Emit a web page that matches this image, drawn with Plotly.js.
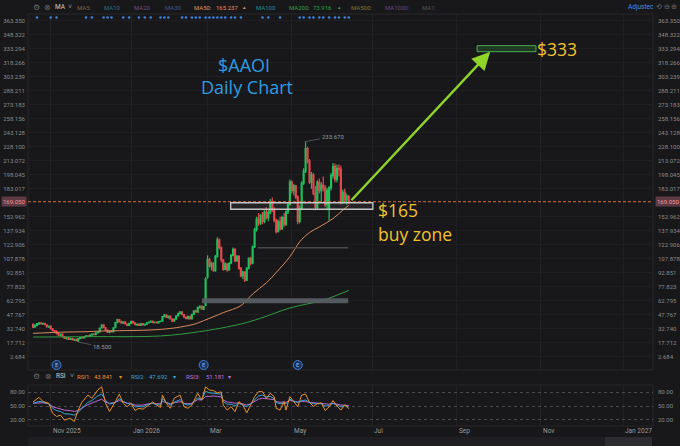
<!DOCTYPE html>
<html><head><meta charset="utf-8">
<script src="https://cdn.plot.ly/plotly-3.0.1.min.js"></script>
<style>html,body{margin:0;padding:0;background:#18181b;}#chart{width:680px;height:446px;}</style>
</head><body><div id="chart"></div>
<script>
const dates = [
"2025-10-21","2025-10-22","2025-10-23","2025-10-24","2025-10-27","2025-10-28","2025-10-29","2025-10-30","2025-10-31",
"2025-11-03","2025-11-04","2025-11-05","2025-11-06","2025-11-07","2025-11-10","2025-11-11","2025-11-12","2025-11-13","2025-11-14","2025-11-17","2025-11-18","2025-11-19","2025-11-20","2025-11-21","2025-11-24","2025-11-25","2025-11-26","2025-11-28",
"2025-12-01","2025-12-02","2025-12-03","2025-12-04","2025-12-05","2025-12-08","2025-12-09","2025-12-10","2025-12-11","2025-12-12","2025-12-15","2025-12-16","2025-12-17","2025-12-18","2025-12-19","2025-12-22","2025-12-23","2025-12-24","2025-12-26","2025-12-29","2025-12-30","2025-12-31",
"2026-01-02","2026-01-05","2026-01-06","2026-01-07","2026-01-08","2026-01-09","2026-01-12","2026-01-13","2026-01-14","2026-01-15","2026-01-16","2026-01-20","2026-01-21","2026-01-22","2026-01-23","2026-01-26","2026-01-27","2026-01-28","2026-01-29","2026-01-30",
"2026-02-02","2026-02-03","2026-02-04","2026-02-05","2026-02-06","2026-02-09","2026-02-10","2026-02-11","2026-02-12","2026-02-13","2026-02-17","2026-02-18","2026-02-19","2026-02-20","2026-02-23","2026-02-24","2026-02-25","2026-02-26","2026-02-27",
"2026-03-02","2026-03-03","2026-03-04","2026-03-05","2026-03-06","2026-03-09","2026-03-10","2026-03-11","2026-03-12","2026-03-13","2026-03-16","2026-03-17","2026-03-18","2026-03-19","2026-03-20","2026-03-23","2026-03-24","2026-03-25","2026-03-26","2026-03-27","2026-03-30","2026-03-31",
"2026-04-01","2026-04-02","2026-04-06","2026-04-07","2026-04-08","2026-04-09","2026-04-10","2026-04-13","2026-04-14","2026-04-15","2026-04-16","2026-04-17","2026-04-20","2026-04-21","2026-04-22","2026-04-23","2026-04-24","2026-04-27","2026-04-28","2026-04-29","2026-04-30",
"2026-05-01","2026-05-04","2026-05-05","2026-05-06","2026-05-07","2026-05-08","2026-05-11","2026-05-12","2026-05-13","2026-05-14","2026-05-15","2026-05-18","2026-05-19","2026-05-20","2026-05-21","2026-05-22","2026-05-26","2026-05-27","2026-05-28","2026-05-29",
"2026-06-01","2026-06-02","2026-06-03","2026-06-04","2026-06-05","2026-06-08","2026-06-09","2026-06-10","2026-06-11","2026-06-12"];

const open = [37.5,34.5,36.3,38.0,39.0,37.8,38.5,37.0,34.8,35.5,
32.6,30.8,29.0,27.6,25.8,26.9,24.3,22.5,23.2,21.4,
22.4,20.9,21.3,20.0,22.1,23.1,22.8,24.2,25.0,24.4,
25.9,27.0,26.4,28.2,29.4,33.5,36.8,33.8,31.0,28.8,
30.4,29.2,33.8,39.2,42.6,40.2,38.8,40.1,37.8,36.2,
38.4,40.7,39.0,37.0,37.6,36.4,38.2,36.8,37.4,39.1,
39.9,40.9,39.2,39.8,39.0,40.5,40.9,45.8,47.6,44.8,
46.3,43.2,40.8,43.1,46.6,49.2,50.8,47.8,45.2,43.6,
46.0,43.4,48.2,52.0,50.6,55.6,56.9,53.8,58.0,88.0,
107.0,100.0,103.0,95.0,110.5,128.0,120.0,106.5,96.5,102.5,
96.0,103.0,111.5,118.0,105.5,110.5,97.5,89.5,93.5,85.0,
97.5,108.0,103.0,120.5,139.0,150.5,146.0,154.5,148.0,158.0,
152.0,157.5,169.5,160.0,149.0,137.0,147.5,140.0,152.0,145.0,
158.0,166.0,190.0,181.0,186.0,174.0,148.0,162.0,189.0,202.0,
226.0,213.0,190.0,198.0,178.0,163.0,190.0,181.0,187.0,184.0,
166.0,161.0,184.0,197.0,207.0,193.0,205.0,204.0,169.0,179.0,
171.0,175.0];
const high = [38.5,37.0,38.8,39.6,39.8,39.2,39.0,37.6,36.0,35.9,
33.5,31.5,31.0,28.8,27.5,27.2,25.0,23.8,23.6,22.9,
22.8,21.8,21.6,22.6,23.5,24.0,24.6,25.3,25.5,26.2,
27.4,27.8,28.5,29.8,34.0,37.5,37.2,34.5,31.8,30.8,
31.0,34.2,40.0,43.5,43.0,41.5,40.6,40.5,38.4,38.8,
41.2,41.0,39.6,38.2,38.0,38.6,38.6,37.8,39.5,40.4,
41.4,41.2,40.2,40.6,40.8,41.5,46.5,48.6,48.0,46.9,
46.8,44.0,43.6,47.2,49.8,51.5,51.2,48.4,45.8,46.5,
46.4,48.8,52.6,53.0,56.2,57.8,57.3,57.5,88.0,111.5,
109.0,104.5,104.0,112.0,131.0,129.5,121.0,107.5,104.0,103.0,
104.0,113.0,120.0,119.0,112.0,111.5,99.0,95.0,94.5,99.0,
109.5,110.0,122.0,141.0,153.0,157.0,156.0,158.0,160.0,163.0,
160.0,172.0,173.5,163.0,151.0,150.0,153.0,154.0,157.0,160.0,
168.0,193.0,192.0,188.0,187.0,176.0,165.0,191.0,205.0,233.67,
228.0,215.0,201.0,200.0,186.0,192.0,194.0,190.0,196.0,187.0,
184.0,186.0,200.0,210.5,210.0,209.0,209.0,208.0,182.0,183.0,
178.0,176.0];
const low = [33.5,33.8,35.5,36.8,37.2,36.9,36.5,34.2,33.6,32.0,
30.1,28.2,26.5,25.0,24.6,23.8,21.8,21.2,20.8,20.6,
20.2,19.6,19.4,18.5,21.5,22.2,22.5,23.8,23.9,24.0,
25.5,26.0,26.2,27.6,29.0,33.0,33.2,30.5,28.2,28.0,
28.6,29.0,33.5,38.6,39.5,38.2,38.0,37.2,35.6,35.8,
38.0,38.5,36.4,35.8,35.9,36.0,36.2,36.0,37.0,38.4,
39.2,38.6,38.5,38.6,38.8,39.6,40.6,45.0,44.2,43.8,
42.6,40.0,40.2,42.8,46.0,48.2,47.2,44.6,43.0,43.2,
42.6,43.0,47.8,49.8,50.2,54.4,53.0,52.6,57.0,86.5,
98.5,95.5,94.0,94.0,109.0,118.0,104.0,95.0,95.5,94.0,
95.0,102.0,110.5,104.0,104.5,96.0,88.0,86.0,83.0,84.0,
96.5,101.0,102.0,119.5,137.0,143.0,144.0,145.0,146.0,150.0,
148.0,155.5,158.0,147.0,135.0,136.0,138.0,139.0,142.0,143.0,
156.0,165.0,178.0,176.0,172.0,145.0,146.0,160.0,187.0,200.0,
210.0,188.0,183.0,176.0,160.0,161.0,178.0,168.0,180.0,163.0,
160.0,149.0,181.0,194.0,190.0,190.0,196.0,166.0,167.0,168.0,
166.0,167.0];
const close = [34.5,36.5,38.2,39.0,37.8,38.6,37.0,34.8,35.5,32.6,
30.8,29.0,27.6,25.8,26.9,24.3,22.5,23.2,21.4,22.4,
20.9,21.3,20.0,22.1,23.1,22.8,24.2,25.0,24.4,25.9,
27.0,26.4,28.2,29.4,33.5,36.8,33.8,31.0,28.8,30.4,
29.2,33.8,39.2,42.6,40.2,38.8,40.1,37.8,36.2,38.4,
40.7,39.0,37.0,37.6,36.4,38.2,36.8,37.4,39.1,39.9,
40.9,39.2,39.8,39.0,40.5,40.9,45.8,47.6,44.8,46.3,
43.2,40.8,43.1,46.6,49.2,50.8,47.8,45.2,43.6,46.0,
43.4,48.2,52.0,50.6,55.6,56.9,53.8,56.5,86.0,107.0,
100.0,103.0,95.0,110.5,128.0,120.0,106.5,96.5,102.5,96.0,
103.0,111.5,118.0,105.5,110.5,97.5,89.5,93.5,85.0,97.5,
108.0,103.0,120.5,139.0,150.5,146.0,154.5,148.0,158.0,152.0,
157.5,169.5,160.0,149.0,137.0,147.5,140.0,152.0,145.0,158.0,
166.0,190.0,181.0,186.0,174.0,148.0,162.0,189.0,202.0,226.0,
213.0,190.0,198.0,178.0,163.0,190.0,181.0,187.0,184.0,166.0,
181.0,184.0,197.0,207.0,193.0,205.0,204.0,169.0,179.0,171.0,
175.0,169.05];

const ma50Dates = ["2025-10-21","2025-11-10","2025-12-01","2025-12-09","2025-12-23","2026-01-16","2026-02-02","2026-02-10","2026-02-19","2026-02-26","2026-03-12","2026-03-25","2026-04-02","2026-04-14","2026-04-21","2026-04-30","2026-05-07","2026-05-14","2026-05-21","2026-06-02","2026-06-09","2026-06-12"];
const ma50 = [27.8,29.0,29.6,30.2,30.6,31.4,33.0,34.9,37.5,41.4,50.0,57.5,70.0,82.0,93.0,110.0,126.0,136.0,142.0,151.0,160.0,165.237];
const ma200Dates = ["2025-10-21","2025-12-02","2026-01-26","2026-02-24","2026-03-25","2026-04-09","2026-04-30","2026-05-26","2026-06-12"];
const ma200 = [23.8,24.2,25.0,29.6,37.8,44.0,55.0,63.4,73.916];

const rsiDates = ["2025-10-21","2025-10-24","2025-10-28","2025-10-31","2025-11-04","2025-11-06","2025-11-10","2025-11-12","2025-11-17","2025-11-19",
"2025-11-21","2025-11-25","2025-12-01","2025-12-03","2025-12-08","2025-12-10","2025-12-12","2025-12-16","2025-12-19","2025-12-23",
"2025-12-26","2025-12-30","2026-01-02","2026-01-06","2026-01-08","2026-01-12","2026-01-15","2026-01-20","2026-01-22","2026-01-26",
"2026-01-27","2026-01-29","2026-02-02","2026-02-04","2026-02-09","2026-02-11","2026-02-13","2026-02-18","2026-02-23","2026-02-25",
"2026-02-27","2026-03-03","2026-03-05","2026-03-09","2026-03-11","2026-03-12","2026-03-16","2026-03-18","2026-03-20","2026-03-24",
"2026-03-26","2026-03-30","2026-04-01","2026-04-06","2026-04-08","2026-04-10","2026-04-14","2026-04-16","2026-04-20","2026-04-21",
"2026-04-23","2026-04-27","2026-04-28","2026-04-30","2026-05-04","2026-05-06","2026-05-08","2026-05-12","2026-05-14","2026-05-18",
"2026-05-20","2026-05-22","2026-05-27","2026-05-29","2026-06-02","2026-06-04","2026-06-08","2026-06-10","2026-06-12"];
const rsi1 = [59,69,60,56,34,27,30,19,23,16, 41,59,74,67,85,92,56,38,60,76, 56,48.5,56,40,45,43,52,59,52,47,
74,56,45,67,74,48.5,45,52,78,63, 92,85,84,79,81,52,41,48.5,37.6,59.5, 52,35,52,70.5,81.5,81.5,67,78,70.5,45,
41,59.5,41,70.5,59.5,48.5,74,76,58,49, 55,57,40,48,62,50,41,52,43.841];
const rsi2 = [56,60,59,55,45,40,38,33,32,30, 36,45,58,62,72,76,62,54,58,66, 60,56,56,48,49,48,54,56,53,52,
66,58,52,58,64,55,52,55,68,64, 82,79,78,76,76,60,54,54,50,56, 52,48.5,55,63,72,74,70,71,66,58,
55,56,55,65,60,58,62,63,58,55, 55,55,50,51,56,52,48,51,47.692];
const rsi3 = [56,57,57,55,48.5,46,44,41,40,38, 40,46,53,56,62,65,58,56,58,62, 59,56,55,52,52,52,55,56,55,55,
60,57,55,57,59.5,56,55,56,64,63, 71,71,72,71,70,63,59,58,56,57, 55,52,55,60,65,67,66,66,64,60,
58,59,58,62,60,59,60,60,58,57, 56,56,53.7,54,56,54,52,52,51.181];

const earnDates = ["2025-11-06","2026-02-26","2026-05-06"];
const newsDates = ["2025-10-23","2025-11-03","2025-11-06","2025-11-28","2025-12-03","2025-12-11","2025-12-15","2025-12-17","2025-12-26","2025-12-31",
"2026-01-08","2026-01-13","2026-01-16","2026-01-26","2026-01-28","2026-01-30","2026-02-10","2026-02-12","2026-02-18","2026-02-20",
"2026-02-24","2026-02-27","2026-03-03","2026-03-05","2026-03-09","2026-03-11","2026-03-13","2026-03-18","2026-03-20","2026-03-25",
"2026-04-10","2026-04-15","2026-04-23","2026-05-07","2026-05-11","2026-05-14","2026-05-18","2026-05-21","2026-05-26","2026-05-29",
"2026-06-03","2026-06-05","2026-06-10","2026-06-12"];

const priceTicks = [2.684,17.712,32.740,47.767,62.795,77.823,92.851,107.878,122.906,137.934,152.962,183.017,198.045,213.072,228.100,243.128,258.156,273.183,288.211,303.239,318.266,333.294,348.322,363.350];
const rsiTicks = [20,50,80];
const monthTicks = ["2025-11-03","2026-01-02","2026-03-02","2026-05-01","2026-07-01","2026-09-01","2026-11-02","2027-01-04"];
const monthLabels = ["Nov 2025","Jan 2026","Mar","May","Jul","Sep","Nov","Jan 2027"];
const holidays = ["2025-11-27","2025-12-25","2026-01-01","2026-01-19","2026-02-16","2026-04-03","2026-05-25","2026-06-19","2026-07-03","2026-09-07","2026-11-26","2026-12-25","2027-01-01","2027-01-18"];

const lastPrice = close[close.length-1];
const buyZone = [160.9, 168.0];
const targetZone = [330.1, 336.5];
const supportBox = [60.0, 65.4];
const midLine = 119.7;
const highVal = Math.max(...high), lowVal = Math.min(...low);
const highDate = dates[high.indexOf(highVal)], lowDate = dates[low.indexOf(lowVal)];

const BG = '#18181b';
const SMALL = "Roboto, 'Liberation Sans', sans-serif";
const BIG = "'Open Sans', 'Noto Sans', sans-serif";
const P = x => (x - 28) / 625;
const Q = y => (426 - y) / 412;
const EARN_LEVEL = -6.2, NEWS_LEVEL = 366.8;

const traces = [
  {type:'candlestick', x:dates, open:open, high:high, low:low, close:close, xaxis:'x', yaxis:'y',
   increasing:{line:{color:'#1fbf5a', width:1.2}, fillcolor:'#1fbf5a'},
   decreasing:{line:{color:'#e5484d', width:1.2}, fillcolor:'#e5484d'},
   hoverinfo:'skip', showlegend:false},
  {type:'scatter', mode:'lines', x:ma50Dates, y:ma50, line:{color:'#d98a5c', width:1, shape:'spline'}, xaxis:'x', yaxis:'y', hoverinfo:'skip', showlegend:false},
  {type:'scatter', mode:'lines', x:ma200Dates, y:ma200, line:{color:'#2f9e3f', width:1, shape:'spline'}, xaxis:'x', yaxis:'y', hoverinfo:'skip', showlegend:false},
  {type:'scatter', mode:'markers+text', x:earnDates, y:earnDates.map(()=>EARN_LEVEL), text:earnDates.map(()=>'E'),
   textfont:{size:6, color:'#8ab8ff', family:SMALL}, textposition:'middle center',
   marker:{size:9, color:'#1b3157', line:{color:'#3f7fd6', width:1}}, xaxis:'x', yaxis:'y', hoverinfo:'skip', showlegend:false},
  {type:'scatter', mode:'markers', x:newsDates, y:newsDates.map(()=>NEWS_LEVEL), marker:{size:2.6, color:'#3f80d8'}, xaxis:'x', yaxis:'y', hoverinfo:'skip', showlegend:false},
  {type:'scatter', mode:'markers', x:[dates[0]], y:[close[0]], marker:{opacity:0}, xaxis:'x', yaxis:'y2', hoverinfo:'skip', showlegend:false},
  {type:'scatter', mode:'lines', x:rsiDates, y:rsi3, line:{color:'#b96bd0', width:1}, xaxis:'x', yaxis:'y3', hoverinfo:'skip', showlegend:false},
  {type:'scatter', mode:'lines', x:rsiDates, y:rsi2, line:{color:'#3aa4d4', width:1}, xaxis:'x', yaxis:'y3', hoverinfo:'skip', showlegend:false},
  {type:'scatter', mode:'lines', x:rsiDates, y:rsi1, line:{color:'#e8912d', width:1}, xaxis:'x', yaxis:'y3', hoverinfo:'skip', showlegend:false},
  {type:'scatter', mode:'markers', x:[dates[0]], y:[50], marker:{opacity:0}, xaxis:'x', yaxis:'y4', hoverinfo:'skip', showlegend:false}
];

const priceDomain = [Q(370), 1];
const rsiDomain = [0, Q(385)];
const priceRange = [-11.56, 370.54];
const rsiRange = [6.1, 96.1];
const tickText = priceTicks.map(v => v.toFixed(3));
const yBase = {range:priceRange, domain:priceDomain, tickvals:priceTicks, ticktext:tickText, ticks:'', showline:false, zeroline:false,
  tickfont:{size:6, color:'#8a8a8a', family:SMALL}, fixedrange:true};

const ann = (text, x, y, color, size, anchor, fam) => ({text:text, xref:'paper', yref:'paper', x:P(x), y:Q(y), xanchor:anchor||'left', yanchor:'middle',
  showarrow:false, font:{size:size||6, color:color, family:fam||SMALL}});

const annotations = [
  ann('⚙', 31, 7.4, '#6a6a6a', 8), ann('⊗', 42, 7.4, '#6a6a6a', 8), ann('MA', 53, 7.4, '#cfcfcf', 6.5), ann('˅', 66, 7.4, '#8a8a8a', 7),
  ann('MA5:', 75, 7.4, '#7d6540'), ann('MA10', 102, 7.4, '#2b6f7a'), ann('MA20', 132, 7.4, '#7a4a7a'), ann('MA30', 163, 7.4, '#3a5a8a'),
  ann('MA50:', 192, 7.4, '#e0905f'), ann('165.237', 214, 7.4, '#e0905f'), ann('▲', 240, 7.4, '#e0905f', 4.5),
  ann('MA100', 254, 7.4, '#1f8f8f'), ann('MA200:', 287, 7.4, '#2ea043'), ann('73.916', 311, 7.4, '#2ea043'), ann('▲', 335, 7.4, '#2ea043', 4.5),
  ann('MA500:', 349, 7.4, '#7a7a30'), ann('MA1000:', 383, 7.4, '#5f4a8a'), ann('MA1:', 420, 7.4, '#555555'),
  ann('Adjustec', 626, 7.4, '#4a8fe0', 6.5), ann('⟲ ⊖ ⊕', 654, 7.4, '#6a6a6a', 7),
  ann('⚙', 31, 376, '#6a6a6a', 8), ann('⊗', 43, 376, '#6a6a6a', 8), ann('RSI', 54, 376, '#cfcfcf', 6.5), ann('˅', 68, 376, '#8a8a8a', 7),
  ann('RSI1:', 75, 376, '#e8912d'), ann('43.841', 92, 376, '#e8912d'), ann('▾', 117, 376, '#e8912d', 6),
  ann('RSI2:', 129, 376, '#3aa4d4'), ann('47.692', 147, 376, '#3aa4d4'), ann('▾', 171, 376, '#3aa4d4', 6),
  ann('RSI3:', 184, 376, '#c86dd7'), ann('51.181', 204, 376, '#c86dd7'), ann('▾', 226, 376, '#c86dd7', 6),
  ann('$AAOI', 243.5, 65, '#2e9ce0', 18, 'center', BIG), ann('Daily Chart', 247, 87.5, '#2e9ce0', 18, 'center', BIG),
  ann('$333', 535, 48.5, '#f2c12e', 17.5, 'left', BIG), ann('$165', 376, 210, '#f2c12e', 17.5, 'left', BIG), ann('buy zone', 376, 234.5, '#f2c12e', 17.5, 'left', BIG),
  {text:lastPrice.toFixed(3), xref:'paper', yref:'y', x:P(14), y:lastPrice, xanchor:'center', yanchor:'middle', showarrow:false,
   bgcolor:'#5e3a45', borderpad:1, font:{size:6, color:'#ff8f8f', family:SMALL}},
  {text:lastPrice.toFixed(3), xref:'paper', yref:'y', x:P(668), y:lastPrice, xanchor:'center', yanchor:'middle', showarrow:false,
   bgcolor:'#5e3a45', borderpad:1, font:{size:6, color:'#ff8f8f', family:SMALL}},
  {text:highVal.toFixed(3), x:highDate, y:highVal, xref:'x', yref:'y', showarrow:true, arrowhead:0, arrowwidth:0.6, arrowcolor:'#777',
   ax:27, ay:-5, font:{size:6, color:'#9a9a9a', family:SMALL}},
  {text:lowVal.toFixed(3), x:lowDate, y:lowVal, xref:'x', yref:'y', showarrow:true, arrowhead:0, arrowwidth:0.6, arrowcolor:'#777',
   ax:24, ay:5, font:{size:6, color:'#9a9a9a', family:SMALL}},
  {text:'', x:'2026-09-25 04:00', y:targetZone[0], xref:'x', yref:'y', ax:'2026-06-12 16:00', ay:lastPrice, axref:'x', ayref:'y',
   showarrow:true, arrowhead:2, arrowsize:1.5, arrowwidth:2.4, arrowcolor:'#8fd42a', standoff:0}
];
monthTicks.forEach((d, i) => annotations.push({text:monthLabels[i], x:d, xref:'x', y:Q(431), yref:'paper', xanchor:'left', yanchor:'middle',
  showarrow:false, font:{size:6.5, color:'#9a9a9a', family:SMALL}}));

const shapes = [
  {type:'rect', xref:'paper', yref:'paper', x0:0, x1:1, y0:priceDomain[0], y1:1, line:{color:'#26262a', width:1}, layer:'below'},
  {type:'rect', xref:'paper', yref:'paper', x0:0, x1:1, y0:0, y1:rsiDomain[1], line:{color:'#26262a', width:1}, layer:'below'},
  {type:'rect', xref:'x', yref:'y', x0:'2026-02-25 05:00', x1:'2026-06-11 17:00', y0:supportBox[0], y1:supportBox[1], fillcolor:'#5b5f67', opacity:0.9, line:{width:0}},
  {type:'line', xref:'x', yref:'y', x0:'2026-04-07 17:00', x1:'2026-06-11 17:00', y0:midLine, y1:midLine, line:{color:'#4a4a4e', width:1.5}},
  {type:'line', xref:'paper', yref:'y', x0:0, x1:1, y0:lastPrice, y1:lastPrice, line:{color:'#d0703a', width:1, dash:'3px,2px'}},
  {type:'rect', xref:'x', yref:'y', x0:'2026-03-17 19:00', x1:'2026-07-01 07:00', y0:buyZone[0], y1:buyZone[1], fillcolor:'rgba(200,200,200,0.07)', line:{color:'#c4c4c4', width:1.4}},
  {type:'rect', xref:'x', yref:'y', x0:'2026-09-16 12:00', x1:'2026-10-28 12:00', y0:targetZone[0], y1:targetZone[1], fillcolor:'rgba(40,95,40,0.45)', line:{color:'#4caf50', width:1}},
  {type:'rect', xref:'paper', yref:'paper', x0:P(28), x1:P(652), y0:Q(446), y1:Q(437), fillcolor:'#1f1f23', line:{width:0}},
  {type:'rect', xref:'paper', yref:'paper', x0:P(605), x1:P(652), y0:Q(446), y1:Q(437), fillcolor:'#2c2c31', line:{width:0}}
];

const layout = {
  width:680, height:446, paper_bgcolor:BG, plot_bgcolor:BG,
  margin:{l:28, r:27, t:14, b:20}, showlegend:false, hovermode:false, dragmode:false,
  xaxis:{type:'date', range:['2025-10-16 10:00','2027-01-26 05:00'], anchor:'y3',
    rangebreaks:[{bounds:['sat','mon']}, {values:holidays}], rangeslider:{visible:false},
    tickvals:monthTicks, showticklabels:false, ticks:'', showgrid:true, gridcolor:'#222226', gridwidth:1, zeroline:false, showline:false, fixedrange:true},
  yaxis:Object.assign({}, yBase, {side:'left', showgrid:true, gridcolor:'#1f1f23', ticklabelstandoff:2}),
  yaxis2:Object.assign({}, yBase, {side:'right', overlaying:'y', showgrid:false, anchor:'x', ticklabelstandoff:4}),
  yaxis3:{domain:rsiDomain, range:rsiRange, tickvals:rsiTicks, ticktext:rsiTicks.map(v=>v.toFixed(2)), ticks:'', side:'left',
    showgrid:true, gridcolor:'#4a4a4e', griddash:'dot', zeroline:false, tickfont:{size:6, color:'#8a8a8a', family:SMALL}, ticklabelstandoff:2, fixedrange:true},
  yaxis4:{domain:rsiDomain, range:rsiRange, tickvals:rsiTicks, ticktext:rsiTicks.map(v=>v.toFixed(2)), ticks:'', side:'right', overlaying:'y3', anchor:'x',
    showgrid:false, zeroline:false, tickfont:{size:6, color:'#8a8a8a', family:SMALL}, ticklabelstandoff:4, fixedrange:true},
  annotations:annotations, shapes:shapes
};

Plotly.newPlot('chart', traces, layout, {staticPlot:true, displayModeBar:false});
</script></body></html>
